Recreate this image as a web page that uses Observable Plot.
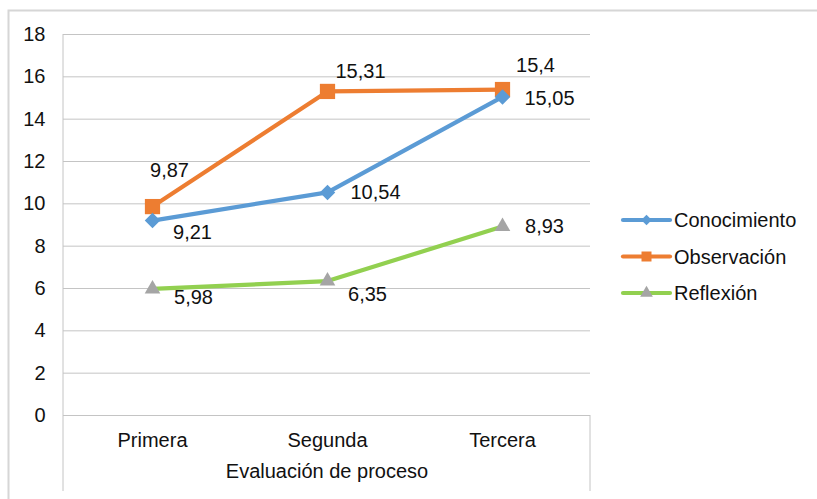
<!DOCTYPE html>
<html>
<head>
<meta charset="utf-8">
<script src="https://cdn.jsdelivr.net/npm/d3@7"></script>
<script src="https://cdn.jsdelivr.net/npm/@observablehq/plot@0.6"></script>
<style>
  html, body { margin: 0; padding: 0; background: #fff; }
  #chart { position: relative; width: 817px; height: 499px; overflow: hidden; }
</style>
</head>
<body>
<div id="chart"></div>
<script>
// ---- data ----
const categories = ["Primera", "Segunda", "Tercera"];
const seriesNames = ["Conocimiento", "Observación", "Reflexión"];
const conocimiento = [9.21, 10.54, 15.05];
const observacion = [9.87, 15.31, 15.4];
const reflexion = [5.98, 6.35, 8.93];
const yTicks = [0, 2, 4, 6, 8, 10, 12, 14, 16, 18];
const xTitle = "Evaluación de proceso";

// ---- styles ----
const FS = 20;
const lineColors = {"Conocimiento": "#5b9bd5", "Observación": "#ed7d31", "Reflexión": "#92d050"};
const markerColors = {"Conocimiento": "#5b9bd5", "Observación": "#ed7d31", "Reflexión": "#a5a5a5"};
const markerSymbols = {"Conocimiento": "diamond2", "Observación": "square", "Reflexión": "triangle"};
const markerR = {"Conocimiento": 7, "Observación": 8.6, "Reflexión": 5.8};
const labelOffsets = {
  "Conocimiento": [[40, 12], [48, 0], [47, 2]],
  "Observación": [[17, -36], [33, -20], [33, -24]],
  "Reflexión": [[41, 9], [40, 14], [42, 0]]
};
const drawOrder = ["Observación", "Conocimiento", "Reflexión"];

const valuesBySeries = {
  "Conocimiento": conocimiento,
  "Observación": observacion,
  "Reflexión": reflexion
};
const rows = seriesNames.flatMap(s =>
  categories.map((c, i) => ({series: s, cat: c, value: valuesBySeries[s][i], idx: i}))
);
const fmt = v => String(v).replace(".", ",");

const marks = [
  Plot.gridY(yTicks, {stroke: "#c4c4c4", strokeOpacity: 1, strokeWidth: 1}),
  Plot.axisY(yTicks, {tickSize: 0, tickPadding: 18, tickFormat: d => String(d), label: null}),
  Plot.axisX({tickSize: 0, tickPadding: 17, label: null}),
  Plot.text([xTitle], {frameAnchor: "bottom", dy: 62, fontSize: FS})
];

for (const s of drawOrder) {
  const data = rows.filter(d => d.series === s);
  marks.push(Plot.line(data, {x: "cat", y: "value", stroke: lineColors[s], strokeWidth: 4.2, strokeLinejoin: "round"}));
  marks.push(Plot.dot(data, {x: "cat", y: "value", symbol: markerSymbols[s], r: markerR[s], fill: markerColors[s], stroke: "none"}));
}
for (const s of seriesNames) {
  const data = rows.filter(d => d.series === s);
  data.forEach((d, i) => {
    const [dx, dy] = labelOffsets[s][i];
    marks.push(Plot.text([d], {x: "cat", y: "value", text: d => fmt(d.value), dx, dy, fontSize: FS, fill: "#111"}));
  });
}

const chart = Plot.plot({
  width: 817,
  height: 499,
  marginLeft: 63,
  marginRight: 227,
  marginTop: 34,
  marginBottom: 84,
  style: {fontFamily: "'Liberation Sans', Arial, sans-serif", fontSize: FS + "px", color: "#111", background: "#fff", overflow: "visible"},
  x: {type: "point", domain: categories, padding: 0.5},
  y: {domain: [0, 18], ticks: yTicks, label: null},
  marks
});

document.getElementById("chart").appendChild(chart);

// ---- decorations: outer border, axis box lines, legend ----
const svg = d3.select(chart);
const xr = chart.scale("x").range;
const ys = chart.scale("y");
const yTop = ys.apply(d3.max(yTicks));
const yZero = ys.apply(0);
const yBottom = 491;

svg.insert("rect", ":first-child")
  .attr("x", 8.5).attr("y", 10.5).attr("width", 900).attr("height", 600)
  .attr("fill", "none").attr("stroke", "#d6d6d6").attr("stroke-width", 2);

svg.append("line").attr("x1", xr[0]).attr("x2", xr[0]).attr("y1", yTop).attr("y2", yBottom)
  .attr("stroke", "#c4c4c4").attr("stroke-width", 1);
svg.append("line").attr("x1", xr[1]).attr("x2", xr[1]).attr("y1", yZero).attr("y2", yBottom)
  .attr("stroke", "#c4c4c4").attr("stroke-width", 1);

const legendSymbols = {"diamond2": d3.symbolDiamond2, "square": d3.symbolSquare, "triangle": d3.symbolTriangle};
const legendSizes = {"Conocimiento": 70, "Observación": 100, "Reflexión": 70};
const lg = svg.append("g").attr("transform", "translate(623,220)");
seriesNames.forEach((s, i) => {
  const g = lg.append("g").attr("transform", `translate(0,${i * 36.5})`);
  g.append("line").attr("x1", 0).attr("x2", 47).attr("y1", 0).attr("y2", 0)
    .attr("stroke", lineColors[s]).attr("stroke-width", 4.2).attr("stroke-linecap", "round");
  g.append("path").attr("transform", "translate(23.5,0)")
    .attr("d", d3.symbol(legendSymbols[markerSymbols[s]], legendSizes[s])())
    .attr("fill", markerColors[s]);
  g.append("text").attr("x", 51).attr("y", 0).attr("dy", "0.35em")
    .attr("text-anchor", "start")
    .attr("font-size", FS).attr("fill", "#111").text(s);
});
</script>
</body>
</html>
